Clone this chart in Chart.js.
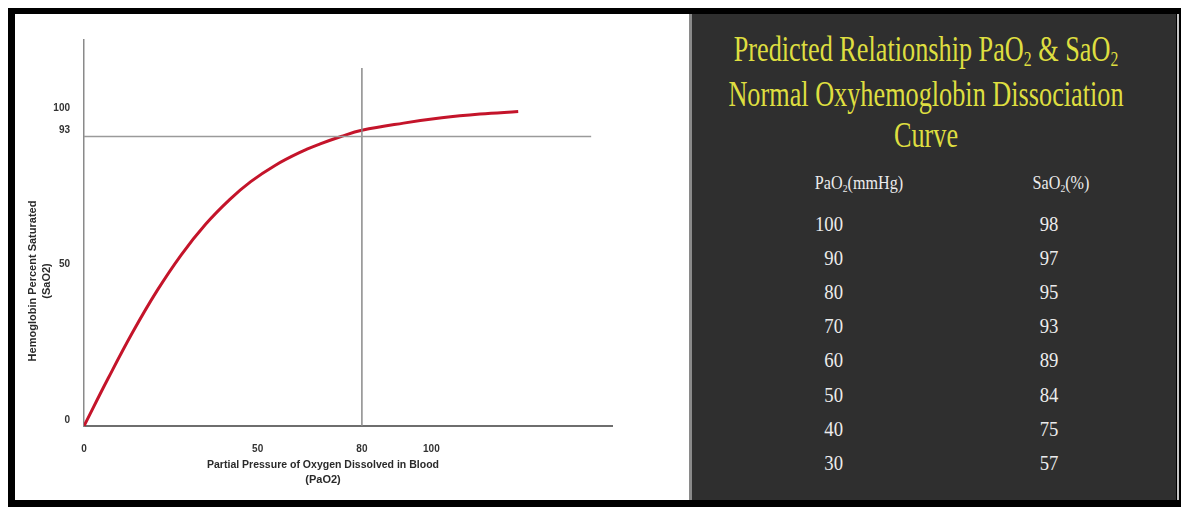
<!DOCTYPE html>
<html>
<head>
<meta charset="utf-8">
<script src="https://cdn.jsdelivr.net/npm/chart.js@4.4.1/dist/chart.umd.min.js"></script>
<style>
  body { margin: 0; width: 1185px; height: 507px; background: #fff; position: relative; overflow: hidden; }
  #frame { position: absolute; left: 8px; top: 8px; width: 1173px; height: 499px; background: #000; }
  #left { position: absolute; left: 15px; top: 14px; width: 675px; height: 486px; background: #fff; }
  #leftEdge { position: absolute; left: 689px; top: 14px; width: 3px; height: 486px; background: #8a8a8a; }
  #right { position: absolute; left: 692px; top: 14px; width: 484px; height: 486px; background: #2f2f2f; overflow: hidden; }
  #rightEdge { position: absolute; left: 1177px; top: 14px; width: 2px; height: 486px; background: #c4c4c4; }
  .ttl { position: absolute; left: -108px; width: 684px; text-align: center; white-space: nowrap;
         font-family: "Liberation Serif", "Times New Roman", serif; font-size: 35px; line-height: 40px;
         color: #dede40; transform: scaleX(0.75); transform-origin: 50% 50%; }
  .cell { position: absolute; white-space: nowrap; font-family: "Liberation Serif", "Times New Roman", serif;
          color: #ececec; line-height: 26px; }
  sub { font-size: 60%; vertical-align: -0.25em; line-height: 0; }
</style>
</head>
<body>
<div id="frame"></div>
<div id="left"><canvas id="chart" width="675" height="486"></canvas></div>
<div id="leftEdge"></div>
<div id="right">
  <div class="ttl" style="top:16px">Predicted Relationship PaO<sub>2</sub> &amp; SaO<sub>2</sub></div>
  <div class="ttl" style="top:61px">Normal Oxyhemoglobin Dissociation</div>
  <div class="ttl" style="top:102px">Curve</div>
  <div id="table"></div>
</div>
<div id="rightEdge"></div>
<script>
// curve: PaO2 (mmHg) vs SaO2 (%)
const curvePressure = [0, 7, 14, 21, 28, 35, 42, 48, 55, 62, 68, 74, 80, 92, 103, 114, 125];
const curveSaturation = [0, 15.4, 30.1, 43.4, 55, 64.8, 72.8, 78.5, 83.7, 87.8, 90.6, 93, 95, 97.3, 99, 100.2, 101];

const xTicks = [0, 50, 80, 100];
const yTicks = [0, 50, 93, 100];

// reference cross-hair at 80 mmHg / 93 %
const refPressure = 80;
const refSaturation = 93;
const refLineXEnd = 146;
const refLineYEnd = 115;

const xTitle = ['Partial Pressure of Oxygen Dissolved in Blood', '(PaO2)'];
const yTitle = ['Hemoglobin Percent Saturated', '(SaO2)'];

// table on the right
const tablePaO2 = [100, 90, 80, 70, 60, 50, 40, 30];
const tableSaO2 = [98, 97, 95, 93, 89, 84, 75, 57];

const table = document.getElementById('table');
function addCell(html, left, top, size, align, width) {
  const d = document.createElement('div');
  d.className = 'cell';
  d.innerHTML = html;
  d.style.left = left + 'px';
  d.style.top = (top - 13) + 'px';
  d.style.width = width + 'px';
  d.style.fontSize = size + 'px';
  d.style.textAlign = align;
  d.style.transform = 'scaleX(0.85)';
  d.style.transformOrigin = align === 'right' ? '100% 50%' : '50% 50%';
  table.appendChild(d);
}
addCell('PaO<sub>2</sub>(mmHg)', 97, 169, 19, 'center', 140);
addCell('SaO<sub>2</sub>(%)', 299, 169, 19, 'center', 140);
tablePaO2.forEach((v, i) => {
  const y = 210 + i * 34.1;
  addCell(String(v), 71, y, 22, 'right', 80);
  addCell(String(tableSaO2[i]), 317, y, 22, 'center', 80);
});

const axisCaptions = {
  id: 'axisCaptions',
  afterDraw(chart) {
    const { ctx, chartArea } = chart;
    ctx.save();
    ctx.font = 'bold 11px "Liberation Sans", Arial, sans-serif';
    ctx.fillStyle = '#2a2a2a';
    ctx.textAlign = 'center';
    ctx.textBaseline = 'middle';
    const cx = chartArea.left + 239;
    ctx.fillText(xTitle[0], cx, chartArea.bottom + 39, 232);
    ctx.fillText(xTitle[1], cx, chartArea.bottom + 54, 40);
    ctx.translate(18, chartArea.top + 241);
    ctx.rotate(-Math.PI / 2);
    ctx.fillText(yTitle[0], 0, 0, 202);
    ctx.fillText(yTitle[1], 0, 14, 40);
    ctx.restore();
  }
};

const tickFont = { family: '"Liberation Sans", Arial, sans-serif', size: 10, weight: 'bold' };

new Chart(document.getElementById('chart'), {
  type: 'line',
  data: {
    datasets: [
      {
        label: 'ref93',
        data: [{ x: 0, y: refSaturation }, { x: refLineXEnd, y: refSaturation }],
        borderColor: '#9a9a9a',
        borderWidth: 1.5,
        pointRadius: 0
      },
      {
        label: 'ref80',
        data: [{ x: refPressure, y: 0 }, { x: refPressure, y: refLineYEnd }],
        borderColor: '#8a8a8a',
        borderWidth: 1.5,
        pointRadius: 0
      },
      {
        label: 'curve',
        data: curvePressure.map((p, i) => ({ x: p, y: curveSaturation[i] })),
        borderColor: '#c4142a',
        borderWidth: 3,
        pointRadius: 0,
        tension: 0.4
      }
    ]
  },
  options: {
    responsive: false,
    animation: false,
    layout: { padding: { top: 26, right: 78, left: 0, bottom: 0 } },
    plugins: { legend: { display: false }, tooltip: { enabled: false } },
    scales: {
      x: {
        type: 'linear',
        min: 0,
        max: 152,
        afterBuildTicks: s => { s.ticks = xTicks.map(v => ({ value: v })); },
        afterFit: s => { s.height = 74; },
        grid: { display: false },
        border: { display: true, color: '#6e6e6e', width: 2 },
        ticks: { color: '#333', font: tickFont, padding: 9, maxRotation: 0, autoSkip: false }
      },
      y: {
        type: 'linear',
        min: 0,
        max: 124,
        afterBuildTicks: s => { s.ticks = yTicks.map(v => ({ value: v })); },
        afterFit: s => { s.width = 69; },
        grid: { display: false },
        border: { display: true, color: '#8a8a8a', width: 1.5 },
        ticks: { color: '#333', font: tickFont, padding: 6, labelOffset: -6, autoSkip: false }
      }
    }
  },
  plugins: [axisCaptions]
});
</script>
</body>
</html>
